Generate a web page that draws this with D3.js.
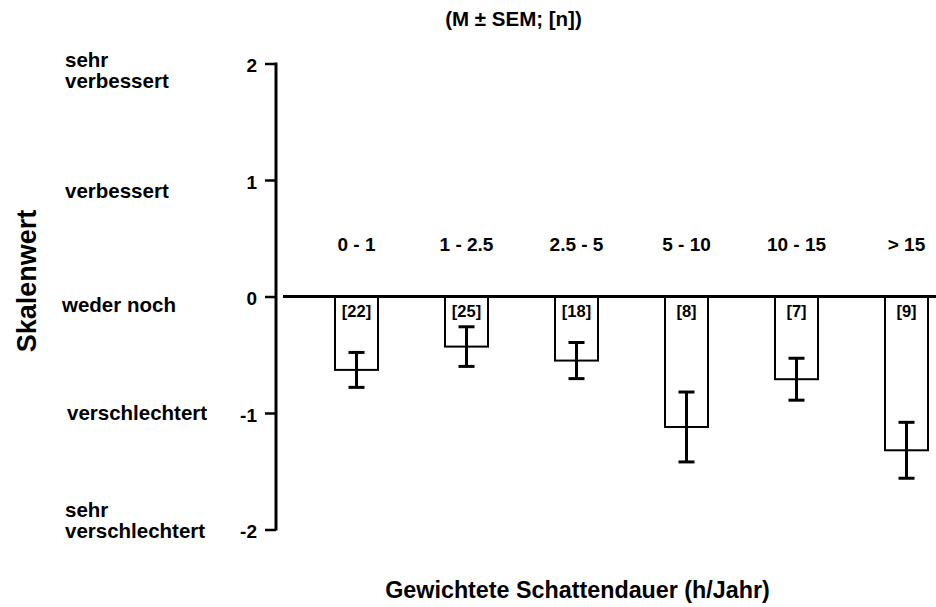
<!DOCTYPE html>
<html><head><meta charset="utf-8">
<script src="https://cdn.jsdelivr.net/npm/d3@7"></script>
<style>body{margin:0;background:#fff}svg{display:block}text{font-family:"Liberation Sans",Arial,sans-serif;font-weight:bold;fill:#000}</style>
</head><body>
<script>
const categories = ["0 - 1","1 - 2.5","2.5 - 5","5 - 10","10 - 15","> 15"];
const means = [-0.63,-0.43,-0.55,-1.12,-0.71,-1.32];
const sems = [0.15,0.17,0.155,0.30,0.18,0.24];
const ns = [22,25,18,8,7,9];
const yTicks = [-2,-1,0,1,2];
const yTickLabels = ["-2","-1","0","1","2"];
const scaleValues = [2,1,0,-1,-2];
const scaleLines = [["sehr","verbessert"],["verbessert"],["weder noch"],["verschlechtert"],["sehr","verschlechtert"]];

const W=936,H=607;
const svg=d3.select("body").append("svg").attr("width",W).attr("height",H);
const y=d3.scaleLinear().domain([-2,2]).range([529.5,63.5]);
const x=d3.scalePoint().domain(categories).range([356.5,906.5]);
const bw=43;

// title
svg.append("text").attr("x",513.5).attr("y",26).attr("text-anchor","middle").style("font-size","20.5px").text("(M ± SEM; [n])");

// y axis
const ax=svg.append("g").attr("transform","translate(276,0)")
  .call(d3.axisLeft(y).tickValues(yTicks).tickSize(11).tickPadding(8).tickFormat((d,i)=>yTickLabels[i]));
ax.select(".domain").attr("d",`M0,${y(2)-1}V${y(-2)+1}`).attr("stroke","#000").attr("stroke-width",3);
ax.selectAll(".tick line").attr("stroke","#000").attr("stroke-width",2.5);
ax.selectAll(".tick text").style("font-size","19px").style("font-family","'Liberation Sans',Arial,sans-serif").style("font-weight","bold").attr("fill","#000").attr("dy","0.44em");

// scale labels (verbal anchors)
const firstBaseline = {"2":67,"1":198,"0":312,"-1":420,"-2":517};
const lx = {"2":65,"1":65,"0":62,"-1":67,"-2":65};
scaleValues.forEach((v,k)=>{
  const t=svg.append("text").style("font-size","20.5px");
  scaleLines[k].forEach((l,i)=>{
    t.append("tspan").attr("x",lx[v]).attr("y",firstBaseline[v]+i*21).text(l);
  });
});

// y title
svg.append("text").attr("transform","translate(36,281) rotate(-90)").attr("text-anchor","middle").style("font-size","27px").text("Skalenwert");

// bars
const g=svg.append("g");
g.selectAll("rect.bar").data(categories).join("rect")
  .attr("x",d=>x(d)-bw/2).attr("y",y(0)).attr("width",bw)
  .attr("height",(d,i)=>y(means[i])-y(0))
  .attr("fill","#fff").attr("stroke","#000").attr("stroke-width",2);

// zero line
svg.append("line").attr("x1",283).attr("x2",936).attr("y1",y(0)).attr("y2",y(0)).attr("stroke","#000").attr("stroke-width",3);

// error bars
categories.forEach((c,i)=>{
  const cx=x(c), lo=y(means[i]-sems[i]), hi=y(means[i]+sems[i]);
  g.append("line").attr("x1",cx).attr("x2",cx).attr("y1",hi).attr("y2",lo).attr("stroke","#000").attr("stroke-width",3);
  [hi,lo].forEach(yy=>g.append("line").attr("x1",cx-8).attr("x2",cx+8).attr("y1",yy).attr("y2",yy).attr("stroke","#000").attr("stroke-width",3));
});

// n labels
svg.selectAll("text.n").data(categories).join("text").attr("class","n")
  .attr("x",d=>x(d)).attr("y",317).attr("text-anchor","middle").style("font-size","16.5px")
  .text((d,i)=>"["+ns[i]+"]");

// category labels
svg.selectAll("text.cat").data(categories).join("text").attr("class","cat")
  .attr("x",d=>x(d)).attr("y",251).attr("text-anchor","middle").style("font-size","19px")
  .text(d=>d);

// x title
svg.append("text").attr("x",577.5).attr("y",598).attr("text-anchor","middle").style("font-size","23.3px").text("Gewichtete Schattendauer (h/Jahr)");
</script>
</body></html>
